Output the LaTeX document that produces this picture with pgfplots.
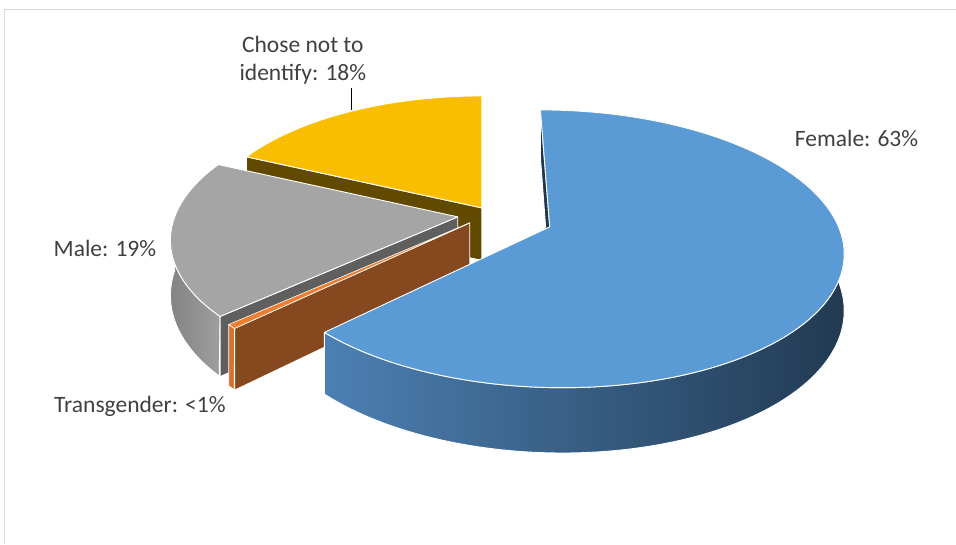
\documentclass[border=0pt]{standalone}
\usepackage{pgfplots}
\usepackage{pgfplotstable}
\pgfplotsset{compat=1.18}
\usepackage{fontspec}
\setmainfont{Carlito}

\definecolor{cFem}{RGB}{91,155,213}
\definecolor{cFemWallL}{RGB}{76,128,179}
\definecolor{cFemWallR}{RGB}{34,58,82}
\definecolor{cFemRad}{RGB}{32,54,75}
\definecolor{cTra}{RGB}{237,125,49}
\definecolor{cTraWall}{RGB}{217,113,44}
\definecolor{cTraRad}{RGB}{134,72,30}
\definecolor{cMal}{RGB}{165,165,165}
\definecolor{cMalWallL}{RGB}{132,132,132}
\definecolor{cMalWallR}{RGB}{158,158,158}
\definecolor{cMalRad}{RGB}{95,95,95}
\definecolor{cCho}{RGB}{250,190,0}
\definecolor{cChoRad}{RGB}{97,74,0}
\definecolor{lblc}{RGB}{64,64,64}
\definecolor{framec}{RGB}{217,217,217}

% share of each group (percent), in the order Excel draws them (clockwise from 12 o'clock)
\pgfplotstableread{
group        value  vx   vy   s
Female       62.8   550  227  1.0
Transgender  0.5    470  223  1.0
Male         18.6   458  217  0.98
Chose        18.1   482  208  0.957
}\piedata

\newcommand\lbl{\fontsize{23.6}{28}\selectfont}
\newcommand\radwall[5]{% angle, vx, vy, s, colour
  \fill[#5, draw=white, line width=0.9pt, line join=round]
    (axis cs:#2,{544-#3}) -- (axis cs:{PX(#1,#2,#4)},{PY(#1,#3,#4,0)})
    -- (axis cs:{PX(#1,#2,#4)},{PY(#1,#3,#4,1)}) -- (axis cs:#2,{544-#3-#4*55}) -- cycle;}

\begin{document}%
\pgfplotstablegetelem{0}{value}\of\piedata \let\vF\pgfplotsretval%
\pgfplotstablegetelem{1}{value}\of\piedata \let\vT\pgfplotsretval%
\pgfplotstablegetelem{2}{value}\of\piedata \let\vM\pgfplotsretval%
\pgfplotstablegetelem{3}{value}\of\piedata \let\vC\pgfplotsretval%
\pgfmathsetmacro\aF{90-3.6*\vF}%
\pgfmathsetmacro\aT{\aF-3.6*\vT}%
\pgfmathsetmacro\aM{\aT-3.6*\vM}%
\pgfmathsetmacro\aC{\aM-3.6*\vC}%
\begin{tikzpicture}[
  declare function={
    PX(\t,\vx,\s)=482+((\vx-482)+\s*289*cos(\t))/(1+0.158*sin(\t));
    PY(\t,\vy,\s,\h)=544-(\vy+\s*(\h*55-135.5*sin(\t))/(1+0.158*sin(\t)));
    WA(\u,\a,\b)=ifthenelse(\u<1.003,\a+\u*(\b-\a),\b-(\u-1)*(\b-\a));
    WL(\u)=ifthenelse(\u<1.003,0,1);
  }]
\begin{axis}[width=956bp, height=544bp, scale only axis,
  xmin=0, xmax=956, ymin=0, ymax=544, hide axis, clip=false]
\path (axis cs:0,0) rectangle (axis cs:956,544);
\draw[framec, line width=1pt] (axis cs:5,0) -- (axis cs:5,534) -- (axis cs:956,534);

% --- Chose not to identify (back) ---
\radwall{\aM}{482}{208}{0.957}{cChoRad}
\addplot[fill=cCho, draw=white, line width=0.9pt, line join=round, domain=\aC:\aM, samples=100, variable=\t]
  ({PX(\t,482,0.957)},{PY(\t,208,0.957,0)}) -- (axis cs:482,336) -- cycle;

% --- Male ---
\addplot[left color=cMalWallL, right color=cMalWallR, draw=white, line width=0.9pt, line join=round,
  domain=0:2, samples=301, variable=\u]
  ({PX(WA(\u,-180,\aT),458,0.98)},{PY(WA(\u,-180,\aT),217,0.98,WL(\u))}) -- cycle;
\radwall{\aT}{458}{217}{0.98}{cMalRad}
\addplot[fill=cMal, draw=white, line width=0.9pt, line join=round, domain=\aM:\aT, samples=100, variable=\t]
  ({PX(\t,458,0.98)},{PY(\t,217,0.98,0)}) -- (axis cs:458,327) -- cycle;

% --- Transgender ---
\addplot[fill=cTraWall, draw=white, line width=0.9pt, line join=round,
  domain=0:2, samples=41, variable=\u]
  ({PX(WA(\u,\aT,\aF),470,1)},{PY(WA(\u,\aT,\aF),223,1,WL(\u))}) -- cycle;
\radwall{\aF}{470}{223}{1}{cTraRad}
\addplot[fill=cTra, draw=white, line width=0.6pt, line join=round, domain=\aT:\aF, samples=10, variable=\t]
  ({PX(\t,470,1)},{PY(\t,223,1,0)}) -- (axis cs:470,321) -- cycle;

% --- Female (exploded) ---
\radwall{90}{550}{227}{1}{cFemRad}
\addplot[left color=cFemWallL, right color=cFemWallR, draw=white, line width=0.9pt, line join=round,
  domain=0:2, samples=301, variable=\u]
  ({PX(WA(\u,\aF,0),550,1)},{PY(WA(\u,\aF,0),227,1,WL(\u))}) -- cycle;
\addplot[fill=cFem, draw=white, line width=0.9pt, line join=round, domain=\aF:90, samples=160, variable=\t]
  ({PX(\t,550,1)},{PY(\t,227,1,0)}) -- (axis cs:550,317) -- cycle;

% --- labels ---
\node[font=\lbl, text=lblc] at (axis cs:857,405) {Female: 63\%};
\node[font=\lbl, text=lblc] at (axis cs:105,295) {Male: 19\%};
\node[font=\lbl, text=lblc] at (axis cs:140,137) {Transgender: <1\%};
\node[font=\lbl, text=lblc, align=center] at (axis cs:303,484) {Chose not to\\identify: 18\%};
\draw[black, line width=0.9pt] (axis cs:351.7,456) -- (axis cs:351.7,434);
\end{axis}
\end{tikzpicture}%
\end{document}
